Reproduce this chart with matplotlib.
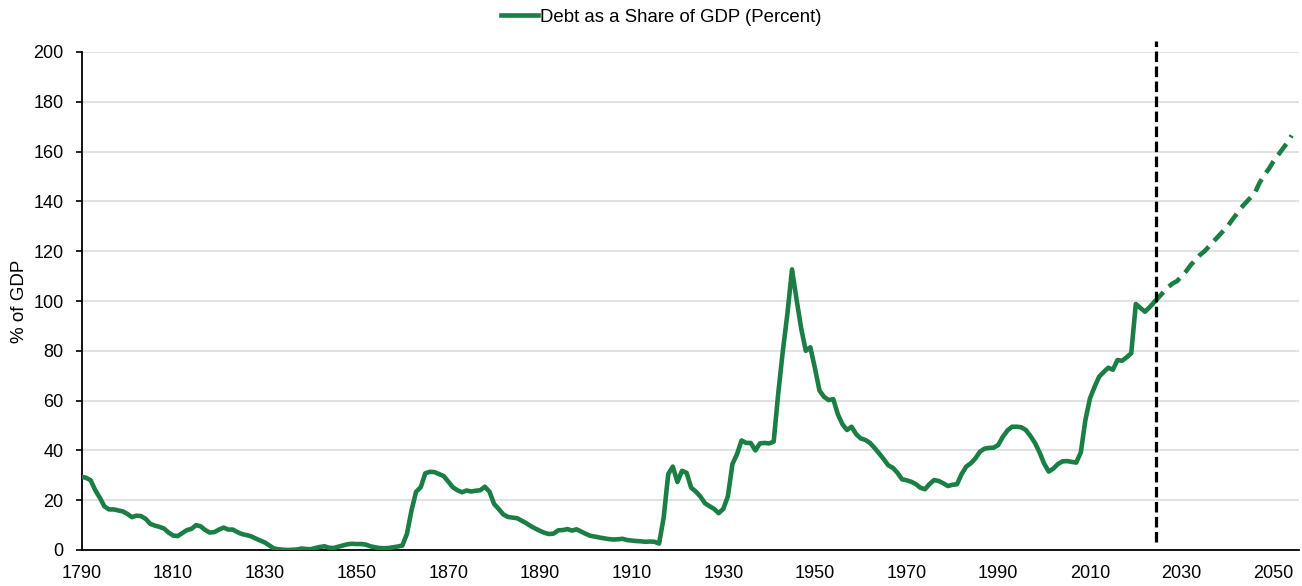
import matplotlib
matplotlib.use("Agg")
import matplotlib.pyplot as plt

plt.rcParams['font.family'] = ['Liberation Sans', 'DejaVu Sans']

# historical debt held by the public, % of GDP (1790-2024)
hist_years = list(range(1790, 2025))
hist_debt = [
    29.4, 29.0, 28.0, 24.0, 21.0, 17.5, 16.3, 16.3, 15.9, 15.5,   # 1790s
    14.5, 13.2, 13.8, 13.6, 12.5, 10.5, 9.8, 9.3, 8.6, 7.0,       # 1800s
    5.8, 5.6, 6.8, 8.0, 8.5, 10.0, 9.5, 8.0, 7.0, 7.2,            # 1810s
    8.2, 9.0, 8.2, 8.2, 7.2, 6.4, 6.0, 5.5, 4.6, 3.8,             # 1820s
    3.0, 1.8, 0.6, 0.3, 0.1, 0.0, 0.1, 0.2, 0.6, 0.4,             # 1830s
    0.3, 0.8, 1.2, 1.5, 0.9, 0.8, 1.3, 1.8, 2.3, 2.5,             # 1840s
    2.4, 2.4, 2.2, 1.5, 1.1, 0.8, 0.7, 0.8, 1.1, 1.4,             # 1850s
    1.8, 6.5, 16.0, 23.4, 25.2, 30.8, 31.4, 31.3, 30.5, 29.7,     # 1860s
    27.5, 25.2, 24.0, 23.2, 23.9, 23.5, 23.8, 24.0, 25.4, 23.4,   # 1870s
    18.5, 16.5, 14.3, 13.3, 13.0, 12.8, 11.8, 10.8, 9.6, 8.6,     # 1880s
    7.7, 6.9, 6.4, 6.6, 7.9, 8.0, 8.4, 7.8, 8.3, 7.4,             # 1890s
    6.5, 5.7, 5.4, 5.0, 4.7, 4.4, 4.2, 4.3, 4.5, 4.0,             # 1900s
    3.8, 3.6, 3.5, 3.3, 3.4, 3.3, 2.6, 13.0, 30.5, 33.5,          # 1910s
    27.3, 31.8, 31.0, 25.0, 23.5, 21.5, 18.8, 17.6, 16.5, 14.8,   # 1920s
    16.5, 21.5, 34.5, 38.5, 44.0, 43.0, 43.0, 40.0, 42.8, 43.0,   # 1930s
    42.8, 43.5, 63.0, 80.0, 95.0, 112.7, 100.5, 89.0, 80.0, 81.4, # 1940s
    73.0, 64.0, 61.5, 60.2, 60.6, 54.5, 50.5, 48.2, 49.5, 46.5,   # 1950s
    44.8, 44.2, 43.0, 41.0, 38.8, 36.5, 34.0, 33.0, 31.0, 28.4,   # 1960s
    28.0, 27.4, 26.5, 25.0, 24.4, 26.5, 28.1, 27.7, 26.8, 25.7,   # 1970s
    26.2, 26.4, 30.5, 33.5, 34.8, 36.8, 39.5, 40.7, 41.0, 41.1,   # 1980s
    42.2, 45.5, 48.0, 49.5, 49.5, 49.3, 48.2, 45.8, 43.0, 39.2,   # 1990s
    34.7, 31.5, 32.7, 34.5, 35.6, 35.7, 35.4, 35.1, 39.2, 52.2,   # 2000s
    60.9, 65.5, 69.6, 71.5, 73.2, 72.4, 76.3, 76.0, 77.4, 79.0,   # 2010s
    98.8, 97.2, 95.7, 97.5, 99.5,                                 # 2020s
]

# projection (2024-2054)
proj_years = list(range(2024, 2055))
proj_debt = [
    99.5, 101.5, 103.5, 105.5, 107.0, 108.0, 110.0, 112.0, 114.5, 116.5,
    118.5, 120.0, 122.0, 124.0, 126.0, 128.0, 130.0, 132.5, 135.0, 137.5,
    139.5, 141.5, 143.5, 147.5, 150.5, 153.0, 156.0, 158.5, 161.0, 163.5,
    166.5,
]

x_ticks = list(range(1790, 2051, 20))
y_ticks = list(range(0, 201, 20))
split_year = 2024.5
green = '#1b7e44'

fig = plt.figure(figsize=(13.02, 5.86), dpi=100)
ax = fig.add_axes([81.5 / 1302, 36 / 586, (1299 - 81.5) / 1302, 498 / 586])

line, = ax.plot(hist_years, hist_debt, color=green, lw=3.3, solid_joinstyle='round',
                label='Debt as a Share of GDP (Percent)', zorder=3)
ax.plot(proj_years, proj_debt, color=green, lw=3.3, dashes=(3.0, 1.7), zorder=3)

ax.axvline(split_year, ymin=0.017, ymax=1.022, color='black', lw=2.3,
           dashes=(3.3, 1.4), clip_on=False, zorder=4)

ax.set_xlim(1790, 2055.6)
ax.set_ylim(0, 200)
ax.set_xticks(x_ticks)
ax.set_yticks(y_ticks)
ax.grid(axis='y', color='#dcdcdc', lw=1.2)
ax.set_axisbelow(True)

for s in ['top', 'right']:
    ax.spines[s].set_visible(False)
ax.spines['left'].set_linewidth(1.3)
ax.spines['bottom'].set_linewidth(1.3)

ax.tick_params(axis='x', length=0, pad=11, labelsize=13)
ax.tick_params(axis='y', length=4, width=1.2, pad=9, labelsize=13)
ax.set_ylabel('% of GDP', fontsize=13.5, labelpad=4)

fig.legend(handles=[line], loc='upper center', bbox_to_anchor=(0.508, 1.014),
           frameon=False, fontsize=13.4, handlelength=2.0, handletextpad=0.1)

fig.savefig('out.png', dpi=100)
